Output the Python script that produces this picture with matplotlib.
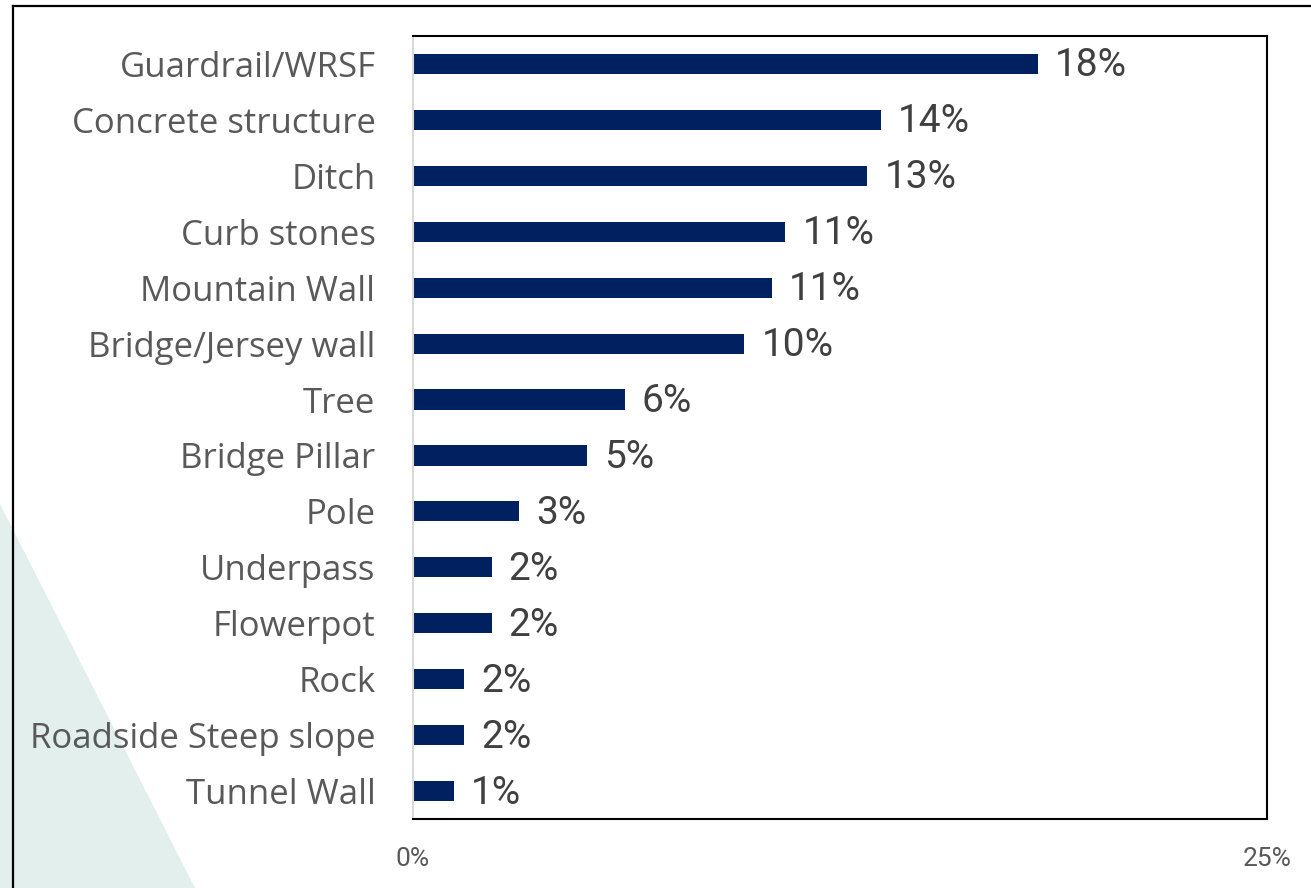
import matplotlib
matplotlib.use("Agg")
import matplotlib.pyplot as plt
from matplotlib.patches import Polygon
from matplotlib.lines import Line2D

categories = ["Guardrail/WRSF", "Concrete structure", "Ditch", "Curb stones",
              "Mountain Wall", "Bridge/Jersey wall", "Tree", "Bridge Pillar",
              "Pole", "Underpass", "Flowerpot", "Rock", "Roadside Steep slope",
              "Tunnel Wall"]
values = [18.3, 13.7, 13.3, 10.9, 10.5, 9.7, 6.2, 5.1, 3.1, 2.3, 2.3, 1.5, 1.5, 1.2]
value_labels = ["18%", "14%", "13%", "11%", "11%", "10%", "6%", "5%", "3%",
                "2%", "2%", "2%", "2%", "1%"]
x_ticks = [0, 25]
x_tick_labels = ["0%", "25%"]

W, H = 1311, 888
fig = plt.figure(figsize=(W / 100, H / 100), dpi=100, facecolor="white")

# background teal triangle (drawn beneath the axes and labels)
tri = Polygon([(0, 1 - 504 / H), (0, 0), (195 / W, 0)], closed=True,
              transform=fig.transFigure, facecolor="#E2EFEC", edgecolor="none", zorder=-2)
fig.patches.append(tri)

# outer frame lines
fig.lines.append(Line2D([13 / W, 13 / W], [0, 1 - 6 / H], transform=fig.transFigure,
                        color="black", lw=1.6, zorder=-1))
fig.lines.append(Line2D([13 / W, 1], [1 - 6 / H, 1 - 6 / H], transform=fig.transFigure,
                        color="black", lw=1.6, zorder=-1))

ax = fig.add_axes([413 / W, 1 - 819 / H, 854 / W, 783 / H])
ax.set_facecolor("white")
y = list(range(len(categories)))
ax.barh(y, values, height=0.36, color="#002060", zorder=2)
ax.set_xlim(0, 25)
ax.set_ylim(len(categories) - 0.5, -0.5)
ax.set_yticks(y)
ax.set_yticklabels(categories, fontsize=25, color="#595959", family="Open Sans")
ax.tick_params(axis="y", length=0, pad=27)
ax.set_xticks(x_ticks)
ax.set_xticklabels(x_tick_labels, fontsize=19, color="#595959", family="Roboto")
ax.tick_params(axis="x", length=0, pad=20)

for yi, v, lab in zip(y, values, value_labels):
    ax.annotate(lab, xy=(v, yi), xytext=(17, -2), textcoords="offset pixels",
                va="center", ha="left", fontsize=28, color="#404040", family="Roboto")

for s in ["top", "right", "bottom"]:
    ax.spines[s].set_color("black")
    ax.spines[s].set_linewidth(1.5)
ax.spines["left"].set_color("#D9D9D9")
ax.spines["left"].set_linewidth(1.5)

fig.savefig("out.png", dpi=100, facecolor="white")
